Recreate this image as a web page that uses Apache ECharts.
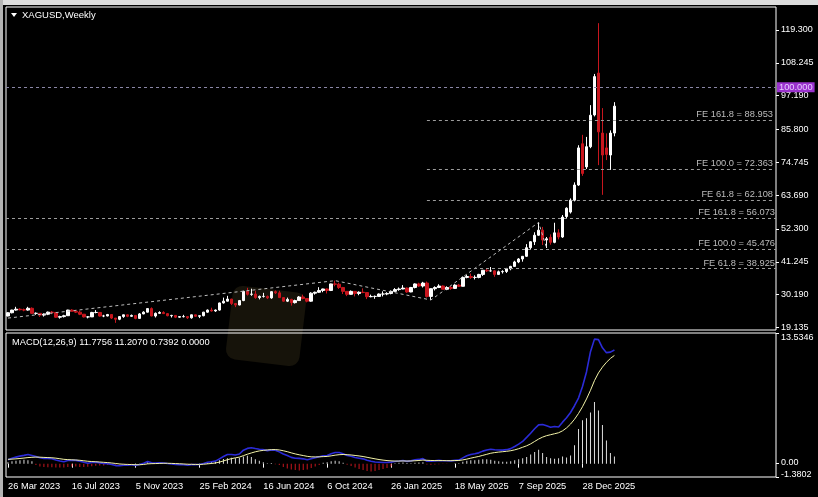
<!DOCTYPE html>
<html><head><meta charset="utf-8">
<script src="https://cdn.jsdelivr.net/npm/echarts@6/dist/echarts.min.js"></script>
<style>html,body{margin:0;padding:0;background:#000;}#c{width:818px;height:497px;}</style>
</head><body><div id="c"></div>
<script>
// Weekly XAGUSD candles: [open, close, low, high], first bar = 26 Mar 2023
const candles = [
[23.0,24.1,22.9,24.3],[24.1,25.0,23.9,25.1],[25.0,25.3,24.8,26.1],[25.3,25.1,24.9,25.6],[25.1,25.0,24.6,25.5],
[25.0,25.6,24.8,26.1],[25.6,23.9,23.7,25.9],[23.9,23.9,23.4,24.2],[23.9,23.3,22.7,23.9],[23.3,23.6,22.8,23.9],
[23.6,24.3,23.3,24.5],[24.3,24.2,23.6,24.7],[24.2,22.6,22.4,24.3],[22.6,22.8,22.1,23.1],[22.8,23.1,22.5,23.4],
[23.1,25.0,23.0,25.1],[25.0,24.6,24.5,25.3],[24.6,24.3,24.0,25.0],[24.3,23.6,23.3,24.8],[23.6,22.7,22.5,23.7],
[22.7,22.7,22.2,23.0],[22.7,24.2,22.7,24.4],[24.2,24.2,23.9,25.0],[24.2,23.0,22.8,24.2],[23.0,23.0,22.6,23.4],
[23.0,23.5,22.9,23.7],[23.5,22.3,22.0,23.5],[22.3,21.9,20.7,22.3],[21.9,22.8,21.6,22.9],[22.8,23.4,22.4,23.5],
[23.4,22.9,22.6,23.5],[22.9,23.2,22.7,23.5],[23.2,22.2,21.9,23.3],[22.2,23.7,22.1,24.0],[23.7,24.3,23.6,24.6],
[24.3,25.5,24.2,25.6],[25.5,23.0,22.9,25.9],[23.0,23.9,22.5,24.2],[23.9,24.2,23.7,24.6],[24.2,23.8,23.7,24.6],
[23.8,23.1,22.9,24.0],[23.1,23.2,22.5,23.4],[23.2,22.6,22.3,23.3],[22.6,22.8,22.4,23.0],[22.8,22.8,22.5,23.4],
[22.8,22.4,22.0,22.9],[22.4,23.4,22.1,23.5],[23.4,22.9,22.7,23.4],[22.9,23.1,22.3,23.2],[23.1,24.3,22.9,24.4],
[24.3,25.0,24.1,25.2],[25.0,24.7,24.5,25.8],[24.7,25.0,24.4,25.2],[25.0,27.4,24.8,27.5],[27.4,28.0,27.2,29.2],
[28.0,28.7,27.9,29.8],[28.7,27.2,26.7,28.8],[27.2,26.7,26.0,27.4],[26.7,28.2,26.6,28.4],[28.2,31.3,28.0,31.5],
[31.3,30.3,29.9,32.5],[30.3,30.4,29.8,32.2],[30.4,29.2,28.8,31.5],[29.2,29.6,28.6,29.9],[29.6,29.6,29.2,30.8],
[29.6,29.1,28.7,29.9],[29.1,31.2,28.8,31.3],[31.2,30.8,30.4,31.6],[30.8,29.2,29.1,31.5],[29.2,28.0,27.8,29.4],
[28.0,28.6,27.7,29.2],[28.6,27.5,26.5,28.8],[27.5,28.2,27.2,28.5],[28.2,29.4,28.1,29.7],[29.4,28.9,28.6,30.2],
[28.9,28.0,27.6,29.0],[28.0,30.7,27.8,31.0],[30.7,31.0,30.2,31.2],[31.0,31.6,30.8,32.7],[31.6,32.1,31.0,32.2],
[32.1,31.6,30.6,32.3],[31.6,33.8,31.4,33.9],[33.8,33.7,33.0,34.9],[33.7,32.6,32.1,34.2],[32.6,31.3,30.4,32.8],
[31.3,30.3,29.7,31.4],[30.3,31.3,30.2,31.6],[31.3,30.6,29.6,31.4],[30.6,31.0,30.0,31.3],[31.0,30.9,30.7,32.3],
[30.9,29.5,28.7,31.0],[29.5,29.6,29.3,30.2],[29.6,29.6,28.8,29.9],[29.6,30.4,29.5,30.6],[30.4,30.4,29.6,31.3],
[30.4,30.6,30.0,31.0],[30.6,31.3,30.3,31.6],[31.3,31.9,31.2,32.4],[31.9,32.1,31.5,32.6],[32.1,32.4,32.0,33.4],
[32.4,31.1,30.8,32.6],[31.1,32.6,31.0,32.8],[32.6,33.8,32.3,34.0],[33.8,33.1,32.8,34.2],[33.1,34.1,32.6,34.5],
[34.1,29.6,29.2,34.6],[29.6,32.2,28.4,32.3],[32.2,32.6,31.6,33.0],[32.6,33.1,32.4,33.7],[33.1,32.0,32.0,33.3],
[32.0,32.6,31.7,33.0],[32.6,32.3,31.8,33.1],[32.3,33.4,32.1,33.7],[33.4,33.0,32.8,33.8],[33.0,36.0,33.0,36.3],
[36.0,36.3,35.7,36.9],[36.3,36.0,35.5,37.3],[36.0,36.0,35.3,36.7],[36.0,37.0,35.7,37.2],[37.0,38.4,36.5,38.5],
[38.4,38.2,37.8,39.1],[38.2,38.2,37.9,39.5],[38.2,37.0,36.2,38.4],[37.0,37.9,36.9,38.3],[37.9,38.0,37.3,38.4],
[38.0,38.9,37.5,39.2],[38.9,39.7,38.4,39.9],[39.7,41.2,39.6,41.6],[41.2,42.2,40.8,42.5],[42.2,43.1,41.3,43.2],
[43.1,46.0,42.9,47.2],[46.0,48.0,45.5,48.2],[48.0,50.2,46.9,51.2],[50.2,51.9,50.0,54.5],[51.9,48.6,46.9,53.0],
[48.6,49.0,45.9,49.6],[49.5,47.8,47.0,50.5],[47.8,51.0,47.5,54.4],[51.0,49.6,48.8,52.2],[49.6,56.3,49.3,57.0],
[56.5,59.3,55.8,59.6],[58.0,62.0,57.5,62.6],[62.0,67.1,61.6,68.0],[67.1,79.6,66.8,80.5],[81.0,71.0,70.2,84.0],
[73.2,80.0,72.5,83.3],[80.0,90.6,79.5,94.0],[90.7,103.6,90.2,104.5],[104.8,85.0,73.8,121.6],[84.6,77.2,63.8,93.0],
[79.6,77.4,75.5,84.5],[77.2,84.6,72.2,85.5],[84.6,93.665,83.5,95.0]
];
const macdLine = [
0.40,0.55,0.68,0.78,0.86,0.95,0.85,0.74,0.62,0.55,
0.55,0.52,0.38,0.27,0.20,0.32,0.36,0.34,0.26,0.14,
0.05,0.12,0.16,0.08,0.01,0.00,-0.08,-0.20,-0.22,-0.17,
-0.15,-0.12,-0.18,-0.08,0.05,0.22,0.10,0.06,0.08,0.07,
0.02,-0.02,-0.08,-0.10,-0.12,-0.16,-0.10,-0.10,-0.09,0.02,
0.15,0.20,0.26,0.50,0.74,0.95,0.95,0.90,1.00,1.40,
1.58,1.65,1.57,1.50,1.45,1.35,1.42,1.40,1.22,1.00,
0.85,0.65,0.56,0.55,0.50,0.40,0.52,0.62,0.72,0.82,
0.85,1.02,1.15,1.15,1.02,0.84,0.76,0.64,0.57,0.50,
0.35,0.25,0.18,0.15,0.12,0.12,0.16,0.22,0.27,0.33,
0.24,0.29,0.40,0.44,0.52,0.25,0.26,0.29,0.34,0.30,
0.30,0.29,0.34,0.37,0.60,0.82,0.95,1.02,1.12,1.30,
1.42,1.50,1.44,1.42,1.40,1.45,1.56,1.78,2.02,2.30,
2.72,3.15,3.62,4.02,4.05,3.92,3.78,3.85,3.80,4.30,
4.75,5.30,6.00,6.80,8.00,9.50,11.60,12.90,12.85,12.00,
11.50,11.55,11.78
];
const signalLine = [
0.45,0.47,0.50,0.54,0.58,0.63,0.66,0.68,0.67,0.65,
0.63,0.61,0.57,0.51,0.45,0.42,0.40,0.38,0.35,0.30,
0.25,0.22,0.20,0.17,0.14,0.11,0.07,0.02,-0.03,-0.06,
-0.08,-0.09,-0.11,-0.11,-0.08,-0.02,0.00,0.01,0.03,0.04,
0.04,0.03,0.01,-0.01,-0.03,-0.06,-0.07,-0.08,-0.08,-0.06,
-0.02,0.02,0.07,0.16,0.28,0.41,0.52,0.60,0.68,0.83,
0.98,1.11,1.23,1.32,1.38,1.42,1.45,1.46,1.42,1.34,
1.24,1.12,1.01,0.92,0.84,0.76,0.71,0.70,0.71,0.73,
0.75,0.81,0.88,0.93,0.95,0.93,0.90,0.85,0.80,0.74,
0.66,0.58,0.50,0.43,0.37,0.32,0.29,0.27,0.27,0.28,
0.27,0.28,0.30,0.33,0.37,0.35,0.33,0.32,0.32,0.32,
0.31,0.31,0.32,0.33,0.39,0.47,0.57,0.66,0.75,0.86,
0.97,1.08,1.15,1.20,1.24,1.28,1.34,1.43,1.55,1.70,
1.85,2.05,2.30,2.55,2.75,2.90,3.00,3.10,3.20,3.40,
3.70,4.10,4.60,5.20,5.90,6.70,7.60,8.60,9.40,10.00,
10.50,10.90,11.21
];
const histogram = [
0.15,0.25,0.30,0.35,0.40,0.35,0.25,-0.15,-0.30,-0.35,
-0.38,-0.38,-0.40,-0.40,-0.40,-0.35,-0.30,-0.30,-0.35,-0.35,
-0.32,-0.28,-0.22,-0.20,-0.18,-0.15,-0.12,-0.10,-0.08,-0.05,
-0.05,-0.03,-0.02,0.02,0.05,0.15,0.10,0.08,0.10,0.08,
0.05,-0.03,-0.05,-0.05,-0.06,-0.06,-0.05,-0.04,-0.02,0.04,
0.12,0.18,0.22,0.35,0.48,0.55,0.60,0.55,0.62,0.75,
0.82,0.70,0.45,0.30,0.15,0.05,0.08,-0.05,-0.15,-0.35,
-0.50,-0.60,-0.65,-0.70,-0.65,-0.60,-0.45,-0.30,-0.15,0.10,
0.15,0.25,0.30,0.25,0.10,-0.10,-0.25,-0.40,-0.55,-0.65,
-0.75,-0.80,-0.75,-0.65,-0.55,-0.45,-0.30,0.05,0.10,0.12,
0.08,0.05,0.10,0.12,0.15,-0.08,-0.10,-0.08,-0.05,-0.04,
-0.03,-0.02,0.02,0.05,0.20,0.30,0.35,0.35,0.40,0.45,
0.45,0.40,0.30,0.25,0.20,0.20,0.25,0.35,0.45,0.55,
0.70,0.95,1.20,1.45,1.10,0.70,0.55,0.50,0.55,0.75,
0.65,0.85,1.90,3.60,4.50,4.70,5.30,6.40,5.50,4.00,
2.40,1.10,0.74
];
const priceTicks = [119.3,108.245,97.19,85.8,74.745,63.69,52.3,41.245,30.19,19.135];
const macdTicks = [13.5346, 0, -1.3802];
const dateTicks = ['26 Mar 2023','16 Jul 2023','5 Nov 2023','25 Feb 2024','16 Jun 2024','6 Oct 2024','26 Jan 2025','18 May 2025','7 Sep 2025','28 Dec 2025'];
const feLevelsFull = [{name:'FE 161.8', value:56.073},{name:'FE 100.0', value:45.476},{name:'FE 61.8', value:38.925}];
const feLevelsRecent = [{name:'FE 161.8', value:88.953},{name:'FE 100.0', value:72.363},{name:'FE 61.8', value:62.108}];
const feRecentStart = 105;
const trendPoints = [[0,22.3],[82,34.9],[106,28.4],[133,54.5],[135,45.9]];
const hLineValue = 100.000;
const lastPrice = 93.665;
const macdTitle = 'MACD(12,26,9) 11.7756 11.2070 0.7392 0.0000';
const chartTitle = 'XAGUSD,Weekly';
const totalSlots = 193;

const months = ['Jan','Feb','Mar','Apr','May','Jun','Jul','Aug','Sep','Oct','Nov','Dec'];
const categories = [];
const t0 = Date.UTC(2023,2,26);
for (let i = 0; i < totalSlots; i++) {
  const d = new Date(t0 + i * 7 * 86400000);
  categories.push(d.getUTCDate() + ' ' + months[d.getUTCMonth()] + ' ' + d.getUTCFullYear());
}
const tickSet = new Set(dateTicks);
const FONT = '"Liberation Sans", Arial, sans-serif';
const RED = '#c8161e';

const feLabel = (n, v) => n + ' = ' + v.toFixed(3);
const markData = [];
feLevelsFull.forEach(f => markData.push({yAxis: f.value, label: {formatter: feLabel(f.name, f.value)}}));
feLevelsRecent.forEach(f => markData.push([
  {coord: [feRecentStart, f.value], label: {formatter: feLabel(f.name, f.value)}},
  {coord: [totalSlots - 1, f.value]}
]));
markData.push({yAxis: hLineValue, lineStyle: {color: '#8a86a6'},
  label: {position: 'end', formatter: hLineValue.toFixed(3), backgroundColor: '#9a32cd', color: '#e8ccff', padding: [1,2,0,2], distance: 1}});
markData.push({yAxis: lastPrice, lineStyle: {opacity: 0},
  label: {position: 'end', formatter: lastPrice.toFixed(3), backgroundColor: '#ffffff', color: '#000000', padding: [1,2,0,2], distance: 1}});

const chart = echarts.init(document.getElementById('c'), null, {renderer: 'canvas'});
chart.setOption({
  backgroundColor: '#000',
  animation: false,
  textStyle: {fontFamily: FONT},
  graphic: [
    {type: 'rect', shape: {x: 0, y: 0, width: 818, height: 5}, style: {fill: '#dcdcdc'}, silent: true},
    {type: 'rect', shape: {x: 0, y: 0, width: 3, height: 497}, style: {fill: '#b4b4b4'}, silent: true},
    {type: 'rect', shape: {x: 229, y: 289, width: 74, height: 74, r: 10}, rotation: -0.12, originX: 266, originY: 326,
      style: {fill: '#16130a'}, silent: true, z: -10},
    {type: 'polygon', shape: {points: [[11,13],[17,13],[14,17]]}, style: {fill: '#fff'}, silent: true},
    {type: 'text', x: 22, y: 15, style: {text: chartTitle, fill: '#fff', fontSize: 9.5, fontFamily: FONT, verticalAlign: 'middle'}, silent: true},
    {type: 'text', x: 12, y: 342, style: {text: macdTitle, fill: '#fff', fontSize: 9.3, fontFamily: FONT, verticalAlign: 'middle'}, silent: true}
  ],
  grid: [
    {left: 6, top: 7, width: 770, height: 323, show: true, borderColor: '#ffffff', borderWidth: 1, backgroundColor: 'transparent'},
    {left: 6, top: 333, width: 770, height: 144, show: true, borderColor: '#ffffff', borderWidth: 1, backgroundColor: 'transparent'}
  ],
  xAxis: [
    {type: 'category', gridIndex: 0, data: categories, boundaryGap: true,
      axisLine: {show: false}, axisTick: {show: false}, axisLabel: {show: false}, splitLine: {show: false}},
    {type: 'category', gridIndex: 1, data: categories, boundaryGap: true,
      axisLine: {show: false},
      axisTick: {show: true, alignWithLabel: true, length: 4, lineStyle: {color: '#fff'}, interval: (i, v) => tickSet.has(v)},
      axisLabel: {show: true, color: '#fff', fontSize: 9.3, fontFamily: FONT, align: 'left', margin: 5, interval: (i, v) => tickSet.has(v)},
      splitLine: {show: false}}
  ],
  yAxis: [
    {type: 'value', gridIndex: 0, position: 'right', min: 18.29, max: 127.04,
      axisLine: {show: false}, splitLine: {show: false},
      axisTick: {show: true, length: 3, lineStyle: {color: '#fff'}, customValues: priceTicks},
      axisLabel: {color: '#fff', fontSize: 9, fontFamily: FONT, margin: 5, customValues: priceTicks,
        formatter: v => v.toFixed(3)}},
    {type: 'value', gridIndex: 1, position: 'right', min: -1.381, max: 13.5346,
      axisLine: {show: false}, splitLine: {show: false},
      axisTick: {show: true, length: 3, lineStyle: {color: '#fff'}, customValues: macdTicks},
      axisLabel: {color: '#fff', fontSize: 9, fontFamily: FONT, margin: 5, customValues: macdTicks,
        showMinLabel: true, showMaxLabel: true, hideOverlap: false,
        formatter: v => v > 10 ? '{t|' + v.toFixed(4) + '}' : (v < -0.5 ? '{b|' + v.toFixed(4) + '}' : '{z|0.00}'),
        rich: {t: {padding: [10,0,0,0], color: '#fff', fontSize: 9, fontFamily: FONT},
               z: {padding: [0,0,2,0], color: '#fff', fontSize: 9, fontFamily: FONT},
               b: {padding: [0,0,4,0], color: '#fff', fontSize: 9, fontFamily: FONT}}}}
  ],
  series: [
    {type: 'candlestick', xAxisIndex: 0, yAxisIndex: 0, data: candles, barWidth: 3,
      itemStyle: {color: '#ffffff', color0: RED, borderColor: '#ffffff', borderColor0: RED, borderWidth: 1},
      markLine: {silent: true, symbol: ['none','none'], animation: false,
        lineStyle: {type: [3,3], color: '#9c9c9c', width: 1},
        label: {position: 'insideEndTop', color: '#bcbcbc', fontSize: 9.3, fontFamily: FONT, distance: 1},
        data: markData}},
    {type: 'line', xAxisIndex: 0, yAxisIndex: 0, data: trendPoints, symbol: 'none', silent: true,
      lineStyle: {type: [3,3], color: '#bdbdbd', width: 1}},
    {type: 'bar', xAxisIndex: 1, yAxisIndex: 1, data: histogram, barWidth: 1,
      itemStyle: {color: p => p.value >= 0 ? '#dcdcdc' : RED}},
    {type: 'line', xAxisIndex: 1, yAxisIndex: 1, data: macdLine, symbol: 'none', silent: true,
      lineStyle: {color: '#2b2bd8', width: 1.6}},
    {type: 'line', xAxisIndex: 1, yAxisIndex: 1, data: signalLine, symbol: 'none', silent: true,
      lineStyle: {color: '#f4f4a8', width: 1}}
  ]
});
</script></body></html>
